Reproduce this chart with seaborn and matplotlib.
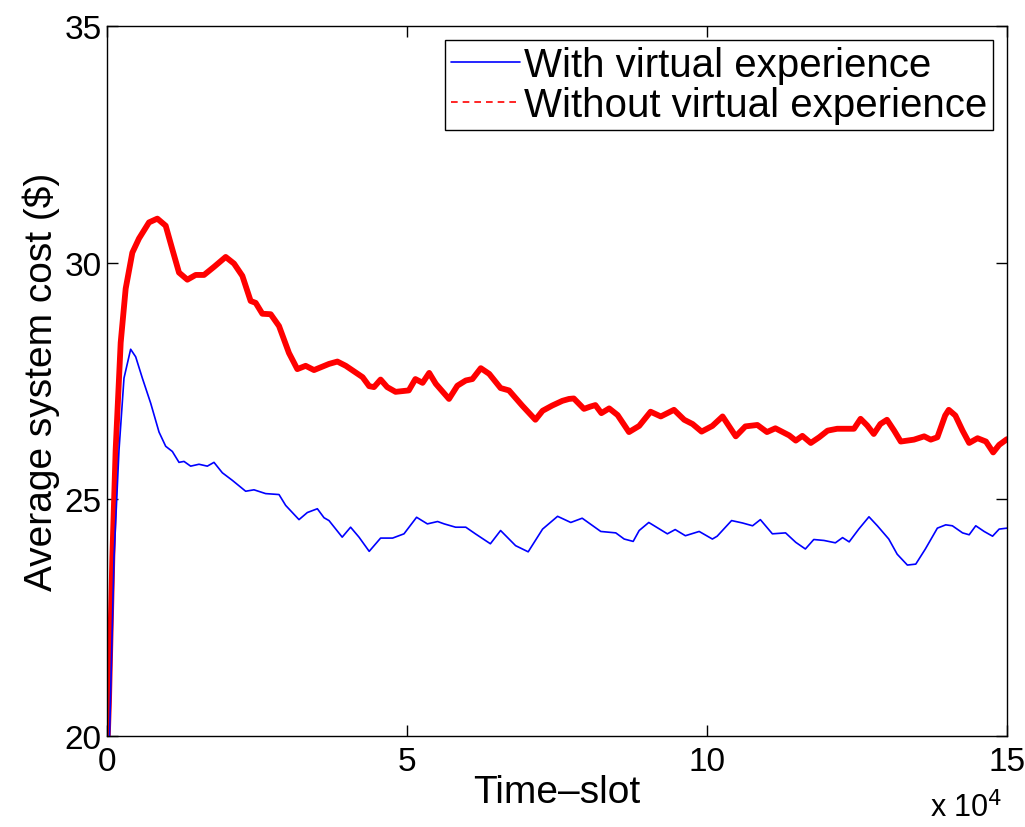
import matplotlib
matplotlib.use("Agg")
import matplotlib.pyplot as plt
from matplotlib.lines import Line2D
import seaborn as sns
import pandas as pd

# ---- data (x in units of 10^4 time-slots) ----
red_x = [0.0, 0.033, 0.089, 0.144, 0.228, 0.311, 0.422, 0.533, 0.70, 0.839,
         0.978, 1.089, 1.20, 1.339, 1.478, 1.617, 1.783, 1.978, 2.117, 2.256,
         2.394, 2.478, 2.589, 2.728, 2.867, 3.033, 3.172, 3.311, 3.45, 3.70,
         3.84, 3.98, 4.12, 4.26, 4.37, 4.45, 4.56, 4.67, 4.81, 5.03,
         5.14, 5.26, 5.37, 5.48, 5.70, 5.84, 5.98, 6.09, 6.23, 6.37,
         6.56, 6.70, 6.92, 7.14, 7.26, 7.42, 7.59, 7.70, 7.78, 7.95,
         8.06, 8.14, 8.24, 8.37, 8.51, 8.70, 8.87, 9.06, 9.23, 9.45,
         9.62, 9.76, 9.91, 10.09, 10.26, 10.48, 10.64, 10.84, 11.00, 11.14,
         11.37, 11.48, 11.59, 11.73, 11.87, 12.01, 12.17, 12.34, 12.45, 12.56,
         12.67, 12.78, 12.89, 13.00, 13.12, 13.23, 13.45, 13.62, 13.73, 13.84,
         13.97, 14.03, 14.14, 14.26, 14.37, 14.51, 14.65, 14.77, 14.87, 15.0]
red_y = [19.5, 20.74, 23.78, 26.04, 28.31, 29.45, 30.21, 30.51, 30.85, 30.93,
         30.78, 30.28, 29.79, 29.64, 29.74, 29.74, 29.91, 30.12, 29.98, 29.72,
         29.19, 29.15, 28.92, 28.91, 28.66, 28.09, 27.75, 27.82, 27.73, 27.86,
         27.91, 27.82, 27.70, 27.58, 27.39, 27.37, 27.53, 27.37, 27.27, 27.30,
         27.54, 27.46, 27.67, 27.44, 27.12, 27.40, 27.51, 27.54, 27.77, 27.65,
         27.35, 27.30, 26.98, 26.68, 26.87, 26.98, 27.08, 27.12, 27.13, 26.91,
         26.96, 26.99, 26.82, 26.92, 26.78, 26.42, 26.55, 26.85, 26.75, 26.89,
         26.68, 26.59, 26.43, 26.55, 26.75, 26.33, 26.54, 26.57, 26.42, 26.50,
         26.35, 26.24, 26.34, 26.19, 26.31, 26.45, 26.49, 26.49, 26.49, 26.70,
         26.56, 26.38, 26.59, 26.68, 26.45, 26.22, 26.26, 26.33, 26.26, 26.31,
         26.77, 26.89, 26.77, 26.45, 26.19, 26.29, 26.22, 25.99, 26.15, 26.27]

blue_x = [0.033, 0.117, 0.20, 0.283, 0.394, 0.478, 0.589, 0.728, 0.867, 0.978,
          1.089, 1.20, 1.283, 1.394, 1.533, 1.672, 1.783, 1.922, 2.089, 2.311,
          2.45, 2.644, 2.867, 2.978, 3.20, 3.339, 3.506, 3.617, 3.70, 3.92,
          4.06, 4.20, 4.37, 4.56, 4.76, 4.95, 5.16, 5.34, 5.51, 5.62,
          5.81, 5.98, 6.14, 6.39, 6.56, 6.81, 7.02, 7.26, 7.51, 7.73,
          7.92, 8.23, 8.48, 8.62, 8.77, 8.87, 9.03, 9.34, 9.47, 9.64,
          9.87, 10.09, 10.17, 10.41, 10.59, 10.76, 10.89, 11.09, 11.31, 11.48,
          11.64, 11.78, 11.95, 12.14, 12.26, 12.37, 12.53, 12.70, 12.84, 13.03,
          13.17, 13.34, 13.48, 13.64, 13.84, 13.98, 14.09, 14.26, 14.37, 14.48,
          14.62, 14.76, 14.87, 15.0]
blue_y = [19.5, 23.78, 26.04, 27.56, 28.17, 28.01, 27.56, 27.03, 26.42, 26.12,
          26.01, 25.78, 25.80, 25.70, 25.74, 25.70, 25.78, 25.56, 25.40, 25.17,
          25.20, 25.12, 25.10, 24.87, 24.57, 24.72, 24.80, 24.61, 24.55, 24.20,
          24.41, 24.20, 23.90, 24.18, 24.18, 24.27, 24.62, 24.48, 24.53, 24.48,
          24.41, 24.41, 24.27, 24.06, 24.34, 24.02, 23.89, 24.37, 24.64, 24.51,
          24.60, 24.32, 24.29, 24.16, 24.11, 24.34, 24.51, 24.27, 24.36, 24.23,
          24.32, 24.16, 24.22, 24.55, 24.50, 24.44, 24.57, 24.27, 24.29, 24.09,
          23.95, 24.15, 24.13, 24.08, 24.19, 24.10, 24.37, 24.63, 24.44, 24.16,
          23.84, 23.61, 23.63, 23.95, 24.39, 24.46, 24.44, 24.29, 24.25, 24.44,
          24.32, 24.22, 24.37, 24.39]

labels = ["With virtual experience", "Without virtual experience"]
x_ticks = [0, 5, 10, 15]
y_ticks = [20, 25, 30, 35]

# ---- style ----
sns.set_theme(style="white")
plt.rcParams['font.family'] = ['Liberation Sans', 'DejaVu Sans']
plt.rcParams['axes.unicode_minus'] = False
FS_TICK = 24
FS_LABEL = 28
FS_LEG = 29

fig = plt.figure(figsize=(10.25, 8.28), dpi=100)
ax = fig.add_axes([0.1044, 0.110, 0.8780, 0.8574])

df_red = pd.DataFrame({"x": red_x, "y": red_y})
df_blue = pd.DataFrame({"x": blue_x, "y": blue_y})
sns.lineplot(data=df_red, x="x", y="y", ax=ax, color="#ff0000", lw=4.2,
             sort=False, estimator=None)
sns.lineplot(data=df_blue, x="x", y="y", ax=ax, color="#0000ff", lw=1.2,
             sort=False, estimator=None)

ax.set_xlim(0, 15)
ax.set_ylim(20, 35)
ax.set_xticks(x_ticks)
ax.set_yticks(y_ticks)
ax.set_xticklabels([str(t) for t in x_ticks], fontsize=FS_TICK)
ax.set_yticklabels([str(t) for t in y_ticks], fontsize=FS_TICK)
ax.tick_params(direction="in", length=8, width=1, top=True, right=True,
               bottom=True, left=True, colors="black")
ax.tick_params(axis="x", pad=7)
ax.tick_params(axis="y", pad=4)
for s in ax.spines.values():
    s.set_color("black")
    s.set_linewidth(1.0)
    s.set_visible(True)

ax.set_xlabel("Time\u2013slot", fontsize=FS_LABEL, labelpad=-2, color="black")
ax.set_ylabel("Average system cost (\\$)", fontsize=FS_LABEL, labelpad=3,
              color="black")
fig.text(0.978, 0.004, r"x 10$^4$", ha="right", va="bottom", fontsize=22,
         color="black")

handles = [Line2D([], [], color="#0000ff", lw=1.2),
           Line2D([], [], color="#ff0000", lw=1.2, ls=(0, (4, 3)))]
leg = ax.legend(handles, labels, loc="upper right", fontsize=FS_LEG,
                frameon=True, fancybox=False, framealpha=1,
                edgecolor="black", handlelength=1.7, handletextpad=0.1,
                borderpad=0.15, labelspacing=0.05, borderaxespad=0.35)
leg.get_frame().set_linewidth(1.0)
for t in leg.get_texts():
    t.set_color("black")

fig.savefig("out.png", dpi=100)
